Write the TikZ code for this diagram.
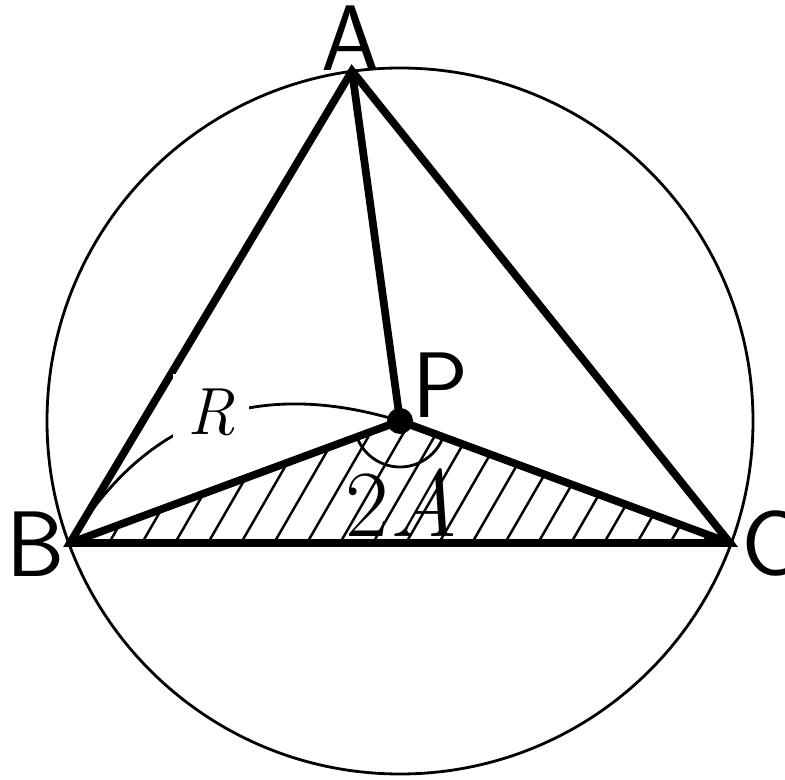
\documentclass[tikz,border=0pt]{standalone}
\usepackage{fontspec}
\tikzset{
  edge/.style={line width=2.2pt, line cap=round},
  thinline/.style={line width=0.8pt},
  hatch/.style={line width=0.7pt},
  vlabel/.style={font=\fontsize{26.5}{30}\selectfont\sffamily, inner sep=0pt},
}

\begin{document}
\begin{tikzpicture}[
  rlabel/.style={font=\fontsize{19}{21}\selectfont\itshape, fill=white, inner sep=4pt},
  alabel/.style={font=\fontsize{27}{30}\selectfont, inner sep=0pt},
]
\useasboundingbox (0,0) rectangle (7.85,7.79);

% Points on the circle
\coordinate (P) at (4.00,3.58);
\coordinate (A) at (3.52,7.08);
\coordinate (B) at (0.70,2.36);
\coordinate (C) at (7.30,2.36);

% Circumcircle
\draw[thinline] (P) circle (3.53);

% Hatched triangle PBC
\begin{scope}
  \clip (P) -- (B) -- (C) -- cycle;
  \foreach \k in {-1,...,19}
    \draw[hatch] ({1.09+0.33*\k},2.36) -- ++(60:1.6);
\end{scope}

% Radius R
\draw[thinline] (B) .. controls +(59:1.6) and +(163:1.35) .. (P);

% Triangle and spokes
\draw[edge] (A) -- (B) -- (C) -- cycle;
\draw[edge] (A) -- (P) (B) -- (P) -- (C);

% Angle at P
\draw[thinline] (P) ++(203:0.46) arc[start angle=203, end angle=337, radius=0.46];
\fill (P) circle (0.13);

% Labels
\node[vlabel] (la) at (3.51,7.41) {A};
\node[vlabel] (lb) at (0.36,2.35) {B};
\node[vlabel] (lc) at (7.69,2.35) {C};
\node[vlabel] (lp) at (4.40,3.94) {P};
\node[rlabel] (lr) at (2.11,3.67) {R};
\node[alabel] (l2a) at (4.02,2.76) {2\itshape A};

\end{tikzpicture}
\end{document}
